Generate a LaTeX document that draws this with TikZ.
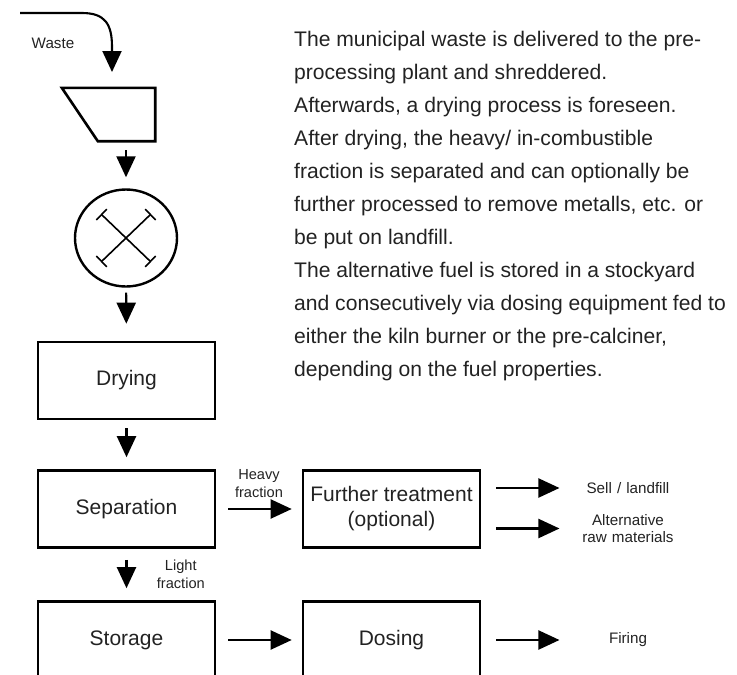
\documentclass[tikz,border=0pt]{standalone}
\usepackage{fontspec}
\setmainfont{Liberation Sans}
\usepackage{tikz}
\usetikzlibrary{arrows.meta, positioning, shapes.geometric, calc}
\definecolor{inktext}{HTML}{222222}
\tikzset{
  procbox/.style={draw, line width=2.6pt, minimum width=177pt, minimum height=77pt,
    inner sep=0pt, align=center, text=inktext, font=\fontsize{21}{25}\selectfont},
  flow/.style={line width=2.1pt, -{Triangle[length=21pt,width=19pt]}},
  outlab/.style={align=center, text width=100pt, text=inktext, font=\fontsize{15.2}{17.5}\selectfont},
  fraclab/.style={align=center, text=inktext, font=\fontsize{14.6}{18}\selectfont},
}

\begin{document}
\begin{tikzpicture}[x=1pt,y=-1pt]
    \useasboundingbox (0,0) rectangle (737,675);
    \clip (0,0) rectangle (737,675);

    % Feed and pre-processing
    \coordinate (wastein) at (20,13);
    \coordinate (hopin) at (112,72);
    \node[text=inktext, font=\fontsize{15.2}{17.5}\selectfont] (wastelab) at (53,43) {Waste};
    \node[minimum width=93pt, minimum height=53pt, inner sep=0pt] (hopper) at (108.5,114.5) {};
    \draw[line width=2.6pt, line join=miter] (hopper.north west) -- (hopper.north east)
      -- (hopper.south east) -- ($(hopper.south west)+(36,0)$) -- cycle;
    \draw[flow] (wastein) -- (82,13) .. controls (105,13) and (112,24) .. (112,47) -- (hopin);
    \node[ellipse, draw, line width=2.4pt, minimum width=102pt, minimum height=97pt, inner sep=0pt] (mill) at (126,238) {};
    \draw[line width=1.6pt, {Bar[width=15pt]}-{Bar[width=15pt]}] ($(mill.center)+(-25,-24)$) -- ($(mill.center)+(25,24)$);
    \draw[line width=1.6pt, {Bar[width=15pt]}-{Bar[width=15pt]}] ($(mill.center)+(25,-24)$) -- ($(mill.center)+(-25,24)$);

    % Process boxes
    \node[procbox] (drying) at (126.5,380.5) {Drying};
    \node[procbox] (sep) at (126.5,509) {Separation};
    \node[procbox] (storage) at (126.5,640) {Storage};
    \node[procbox] (further) at (391.5,509) {Further treatment\\(optional)};
    \node[procbox] (dosing) at (391.5,640) {Dosing};

    % Outputs
    \node[outlab] (sell) at (628,488) {Sell / landfill};
    \node[outlab] (altraw) at (628,528.5) {Alternative\\raw materials};
    \node[outlab] (firing) at (628,640) {Firing};

    % Flow arrows
    \draw[flow, shorten <=9pt, shorten >=11pt] (hopper.south -| mill) -- (mill);
    \draw[flow, shorten <=5pt, shorten >=17pt] (mill) -- (drying);
    \draw[flow, shorten <=8pt, shorten >=12pt] (drying) -- (sep);
    \draw[flow, shorten <=11pt, shorten >=12pt] (sep) -- (storage)
      node[fraclab, midway, right=26pt] {Light\\fraction};
    \draw[flow, shorten <=12pt, shorten >=10pt] (sep) -- (further)
      node[fraclab, midway, above=7pt] {Heavy\\fraction};
    \draw[flow, shorten <=12pt, shorten >=10pt] (storage) -- (dosing);
    \draw[flow, shorten <=15pt, shorten >=15pt] (further.east |- sell) -- (sell);
    \draw[flow, shorten <=15pt, shorten >=15pt] (further.east |- altraw) -- (altraw);
    \draw[flow, shorten <=15pt, shorten >=15pt] (dosing) -- (firing);

    % Description
    \node[anchor=north west, inner sep=0pt, align=left, text=inktext,
      font=\fontsize{21.1}{33}\selectfont] (notes) at (294,31) {%
      The municipal waste is delivered to the pre-\\
      processing plant and shreddered.\\
      Afterwards, a drying process is foreseen.\\
      After drying, the heavy/ in-combustible\\
      fraction is separated and can optionally be\\
      further processed to remove metalls, etc. or\\
      be put on landfill.\\
      The alternative fuel is stored in a stockyard\\
      and consecutively via dosing equipment fed to\\
      either the kiln burner or the pre-calciner,\\
      depending on the fuel properties.};
\end{tikzpicture}
\end{document}
